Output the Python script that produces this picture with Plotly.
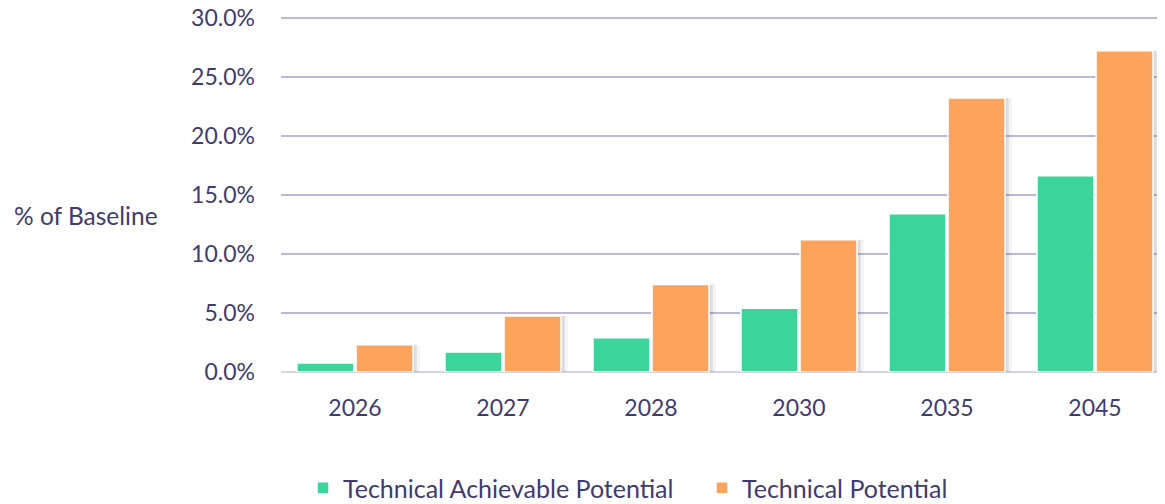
import plotly.graph_objects as go

years = ["2026", "2027", "2028", "2030", "2035", "2045"]
tap = [0.76, 1.7, 2.9, 5.4, 13.4, 16.6]
tp = [2.3, 4.75, 7.4, 11.2, 23.2, 27.2]
tick_vals = [0, 5, 10, 15, 20, 25, 30]
tick_text = ["0.0%", "5.0%", "10.0%", "15.0%", "20.0%", "25.0%", "30.0%"]

font_family = "Lato, 'Open Sans', sans-serif"
text_color = "#3f3b6e"
fs = 23

W, H = 1157, 496           # page body adds an 8px margin
L, R, T, B = 273, 2, 6, 132
pw = W - L - R
ph = H - T - B

fig = go.Figure()
# soft shadows to the right of the orange bars
for off, alpha in [(0.045, 0.06), (0.025, 0.12)]:
    fig.add_trace(go.Bar(x=years, y=tp, offset=0.007 + off, width=0.385,
                         marker=dict(color=f"rgba(60,60,60,{alpha})", line=dict(width=0)),
                         showlegend=False, hoverinfo="skip"))
fig.add_trace(go.Bar(x=years, y=tap, name="Technical Achievable Potential",
                     offset=-0.392, width=0.385,
                     marker=dict(color="#3dd49b", line=dict(color="white", width=1.5)),
                     legend="legend"))
fig.add_trace(go.Bar(x=years, y=tp, name="Technical Potential",
                     offset=0.007, width=0.385,
                     marker=dict(color="#fea35b", line=dict(color="white", width=1.5)),
                     legend="legend2"))

leg_y = -(480 - 364) / ph
leg_common = dict(orientation="h", yanchor="middle", y=leg_y, xanchor="left",
                  font=dict(size=25, color=text_color), bgcolor="rgba(0,0,0,0)",
                  itemwidth=30)
fig.update_layout(
    width=W, height=H,
    margin=dict(l=L, r=R, t=T, b=B, autoexpand=False),
    plot_bgcolor="white", paper_bgcolor="white",
    barmode="overlay",
    font=dict(family=font_family, color=text_color, size=fs),
    legend=dict(x=(295 - L) / pw, **leg_common),
    legend2=dict(x=(694 - L) / pw, **leg_common),
    showlegend=True,
)
fig.update_yaxes(range=[0, 30.3], tickvals=tick_vals, ticktext=tick_text,
                 showgrid=True, gridcolor="#bdb7d9", gridwidth=2,
                 zeroline=True, zerolinecolor="#d6d2e8", zerolinewidth=2,
                 ticklabelstandoff=25, ticklabeloverflow="allow",
                 tickfont=dict(size=fs, color=text_color),
                 automargin=False)
fig.update_xaxes(showline=False, tickfont=dict(size=fs, color=text_color),
                 range=[-0.5, -0.5 + pw / 148.0],
                 ticklabelstandoff=20, automargin=False)
fig.add_annotation(text="% of Baseline", xref="paper", yref="paper",
                   x=(4 - L) / pw, y=(364 - 207) / ph, xanchor="left", yanchor="middle",
                   showarrow=False, font=dict(size=24.5, color=text_color))

fig.write_html("out.html")
